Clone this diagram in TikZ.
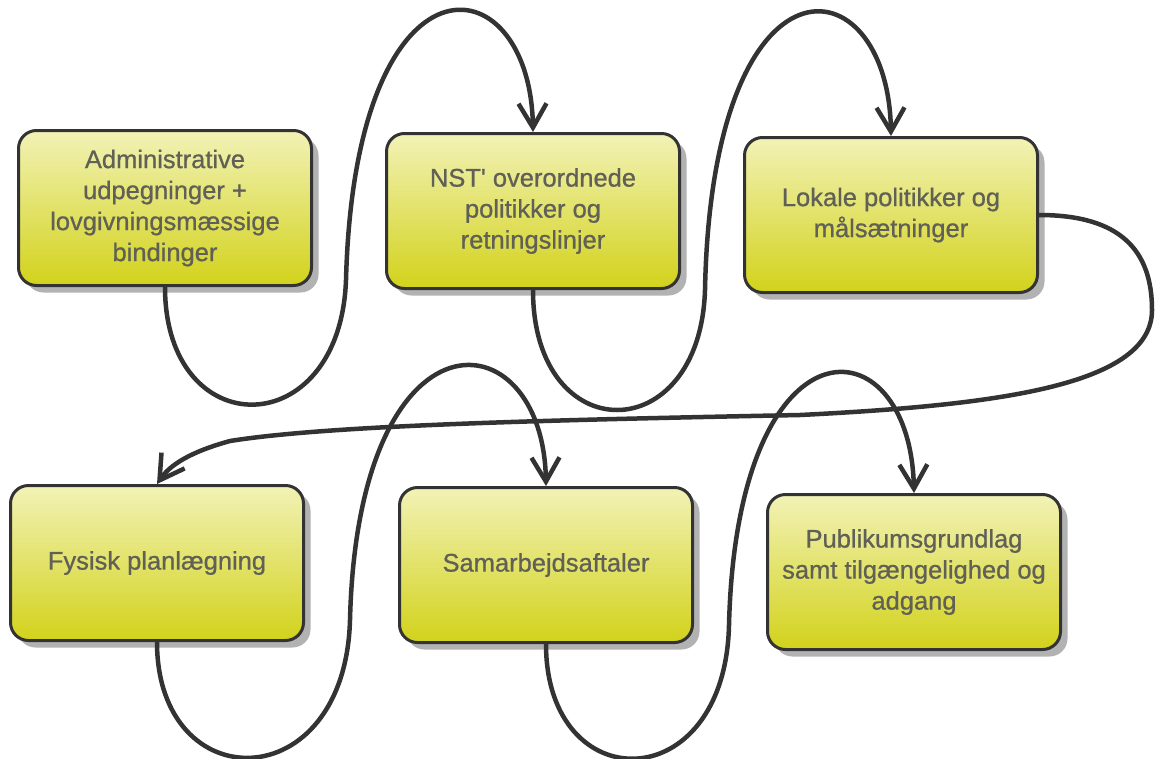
\documentclass[tikz,border=0pt]{standalone}
\usepackage{fontspec}
\setmainfont{Liberation Sans}
\newfontfamily\boxfont{Liberation Sans}[BoldFont={Liberation Sans}, BoldFeatures={FakeBold=0.8}]
\usetikzlibrary{arrows.meta,shadows}
\definecolor{boxtop}{RGB}{242,242,182}
\definecolor{boxbot}{RGB}{210,210,28}
\definecolor{lineclr}{RGB}{51,51,51}
\definecolor{boxtext}{RGB}{96,96,86}
\begin{document}
\begin{tikzpicture}[x=1pt,y=-1pt]
	\tikzset{planbox/.style={draw=lineclr, line width=3pt, rounded corners=18pt, top color=boxtop, bottom color=boxbot, minimum width=293pt, minimum height=155pt, align=center, text=boxtext, font=\boxfont\bfseries\fontsize{25.5}{31}\selectfont, drop shadow={shadow xshift=7pt, shadow yshift=-7pt, fill=black!30, opacity=1}}}
	\tikzset{flow/.style={draw=lineclr, line width=4.5pt, -{Straight Barb[length=24pt,width=28pt]}}}
	\useasboundingbox (0,0) rectangle (1156,758);
	% boxes
	\node [planbox] (b1) at (165,208) {Administrative\\udpegninger +\\lovgivningsmæssige\\bindinger};
	\node [planbox] (b2) at (533,211) {NST' overordnede\\politikker og\\retningslinjer};
	\node [planbox] (b3) at (891,215) {Lokale politikker og\\målsætninger};
	\node [planbox] (b4) at (157,563) {Fysisk planlægning};
	\node [planbox] (b5) at (546,565) {Samarbejdsaftaler};
	\node [planbox] (b6) at (914,572) {Publikumsgrundlag\\samt tilgængelighed og\\adgang};
	% loops
	\draw [flow] (b1.south) .. controls (165,445) and (340,445) .. (346,280) .. controls (355,-60) and (530,-40) .. (b2.north);
	\draw [flow] (b2.south) .. controls (533,450) and (700,450) .. (705,290) .. controls (712,-60) and (888,-40) .. (b3.north);
	\draw [flow] (b3.east) .. controls (1120,215) and (1152,250) .. (1152,310) .. controls (1152,385) and (1000,405) .. (800,415) .. controls (550,420) and (330,425) .. (230,441) .. controls (190,452) and (170,465) .. (b4.north);
	\draw [flow] (b4.south) .. controls (157,800) and (345,800) .. (350,620) .. controls (358,300) and (543,315) .. (b5.north);
	\draw [flow] (b5.south) .. controls (546,800) and (725,800) .. (729,625) .. controls (737,310) and (910,320) .. (b6.north);
\end{tikzpicture}
\end{document}
